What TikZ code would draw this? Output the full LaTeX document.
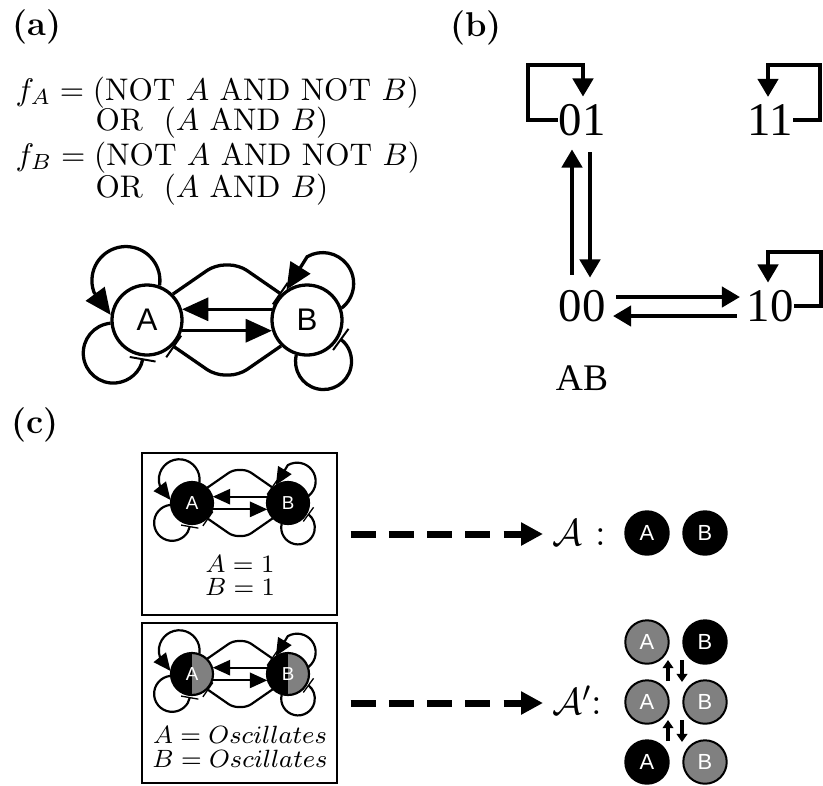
\documentclass[tikz,border=0pt]{standalone}
\usepackage{fontspec}
\usetikzlibrary{arrows.meta}
\newfontfamily\helv{Liberation Sans}
\newfontfamily\tms{Liberation Serif}

\tikzset{
  lbl/.style={font=\fontsize{11}{13}\selectfont\bfseries, inner sep=0pt},
  act/.style={-{Triangle[length=0pt 8,width=0pt 7]}},
  inh/.style={-{Bar[width=0pt 8,line width=0pt 0.6]}},
  cross/.style={inh, rounded corners=3pt},
  netnode/.style={circle, draw, minimum size=22.4pt, inner sep=0pt, font=\helv\fontsize{10}{10}\selectfont},
  Astyle/.style={fill=white},
  Bstyle/.style={fill=white},
  on/.style={fill=black, text=white},
  osc/.style={fill=black, text=white, path picture={\fill[gray] (path picture bounding box.north) rectangle (path picture bounding box.south east);}},
  abnet/.pic={
    % ノード
    \node[netnode, Astyle] (-A) at (-80,0) {A};
    \node[netnode, Bstyle] (-B) at (80,0) {B};
    % A と B の間
    \draw[act] (-B.163) -- (-A.17);
    \draw[act] (-A.-17) -- (-B.197);
    \draw[cross] (-A.45) -- (-12,55) -- (12,55) -- (-B.135);
    \draw[cross] (-B.225) -- (12,-55) -- (-12,-55) -- (-A.-45);
    % 自己ループ
    \draw[act] (-A.70.6) arc[start angle=-8.5, end angle=200, radius=34] -- (-A.172);
    \draw[inh] (-A.185) arc[start angle=95.3, end angle=350, radius=30];
    \draw[act] (-B.19.2) arc[start angle=-52.2, end angle=120, radius=31] -- (-B.124);
    \draw[inh] (-B.253) arc[start angle=166.6, end angle=414, radius=28];
  },
  state/.style={inner sep=0pt, font=\tms\fontsize{15}{15}\selectfont},
  sarr/.style={line width=1.2pt, -{Triangle[length=5.8pt,width=6.5pt]}},
  box/.style={draw, line width=0.64pt, minimum width=62.4pt, inner sep=0pt},
  txt/.style={anchor=base, inner sep=0pt, font=\fontsize{8}{8}\selectfont},
  dasharr/.style={line width=2.24pt, dash pattern=on 8pt off 4.25pt, -{Triangle[length=7pt,width=7pt]}},
  attlbl/.style={anchor=west, inner sep=2.8pt, font=\fontsize{12.5}{14}\selectfont},
  attr/.style={circle, draw, line width=0.64pt, minimum size=13.9pt, inner sep=0pt, text=white, font=\helv\fontsize{7}{7}\selectfont},
  tarr/.style={line width=1.1pt, -{Triangle[length=2.6pt,width=3.4pt]}},
}

\begin{document}
\begin{tikzpicture}[x=0.32pt, y=0.32pt]
  \useasboundingbox (0,0) rectangle (823,-785);

  % (a) ブール関数
  \node[lbl] (la) at (37,-27) {(a)};
  \node[anchor=base west, inner sep=0pt] (fa1) at (15,-100) {$f_A = (\mathrm{NOT}\ A\ \mathrm{AND}\ \mathrm{NOT}\ B)$};
  \node[anchor=base west, inner sep=0pt] (fa2) at (95,-130) {$\mathrm{OR}\ \ (A\ \mathrm{AND}\ B)$};
  \node[anchor=base west, inner sep=0pt] (fb1) at (15,-165) {$f_B = (\mathrm{NOT}\ A\ \mathrm{AND}\ \mathrm{NOT}\ B)$};
  \node[anchor=base west, inner sep=0pt] (fb2) at (95,-197) {$\mathrm{OR}\ \ (A\ \mathrm{AND}\ B)$};

  % (a) ネットワーク
  \pic[line width=1.05pt] (big) at (227,-320) {abnet};

  % (b) 状態遷移
  \node[lbl] (lb) at (476,-28) {(b)};
  \node[state] (s01) at (582,-120) {01};
  \node[state] (s11) at (770,-120) {11};
  \node[state] (s00) at (582,-306) {00};
  \node[state] (s10) at (770,-306) {10};
  \node[state, anchor=base, font=\tms\fontsize{12}{12}\selectfont] (ab) at (582,-390) {AB};

  \draw[sarr] (s01.west) -- ++(-30,0) -- ++(0,55) -| ([shift={(1,7)}]s01.north);
  \draw[sarr] (s11.east) -- ++(27,0) -- ++(0,55) -| ([shift={(-2,7)}]s11.north);
  \draw[sarr] (s10.east) -- ++(27,0) -- ++(0,54) -| ([shift={(-2,7)}]s10.north);
  \draw[sarr] ([shift={(-10,15)}]s00.north) -- ([shift={(-10,-13)}]s01.south);
  \draw[sarr] ([shift={(8,-16)}]s01.south) -- ([shift={(8,12)}]s00.north);
  \draw[sarr] ([shift={(10,9)}]s00.east) -- ([shift={(-6,9)}]s10.west);
  \draw[sarr] ([shift={(-9,-10)}]s10.west) -- ([shift={(7,-10)}]s00.east);

  % (c) アトラクタ
  \node[lbl] (lc) at (35,-425) {(c)};
  \node[box, minimum height=51.8pt] (box1) at (239.5,-534) {};
  \node[box, minimum height=51.2pt] (box2) at (239.5,-703) {};
  \pic[scale=0.6, transform shape, line width=0.7pt, cross/.append style={rounded corners=1.6pt}, Astyle/.style={on}, Bstyle/.style={on}] (fix) at (240,-503) {abnet};
  \pic[scale=0.6, transform shape, line width=0.7pt, cross/.append style={rounded corners=1.6pt}, Astyle/.style={osc}, Bstyle/.style={osc}] (cyc) at (240,-674) {abnet};
  \node[txt] (t1a) at (240,-572) {$A=1$};
  \node[txt] (t1b) at (240,-595) {$B=1$};
  \node[txt] (t2a) at (240,-743) {$A=Oscillates$};
  \node[txt] (t2b) at (240,-767) {$B=Oscillates$};

  \node[attlbl] (att1) at (543,-533) {$\mathcal{A}$ :};
  \node[attlbl] (att2) at (543,-700) {$\mathcal{A}'$:};
  \draw[dasharr, shorten <=4pt] (box1.east) -- (box1.east -| att1.west);
  \draw[dasharr, shorten <=4pt] (box2.east) -- (box2.east -| att2.west);

  \node[attr, fill=black] (p1A) at (647,-533) {A};
  \node[attr, fill=black] (p1B) at (705,-533) {B};
  \foreach \r/\y/\ca/\cb in {1/642/gray/black, 2/702/gray/gray, 3/762/black/gray}{
    \node[attr, fill=\ca] (c\r A) at (647,-\y) {A};
    \node[attr, fill=\cb] (c\r B) at (705,-\y) {B};
  }
  \foreach \r in {1,2}{
    \draw[tarr] ([shift={(21,-39)}]c\r A.center) -- ([shift={(21,-18)}]c\r A.center);
    \draw[tarr] ([shift={(35,-18)}]c\r A.center) -- ([shift={(35,-40)}]c\r A.center);
  }
\end{tikzpicture}
\end{document}
